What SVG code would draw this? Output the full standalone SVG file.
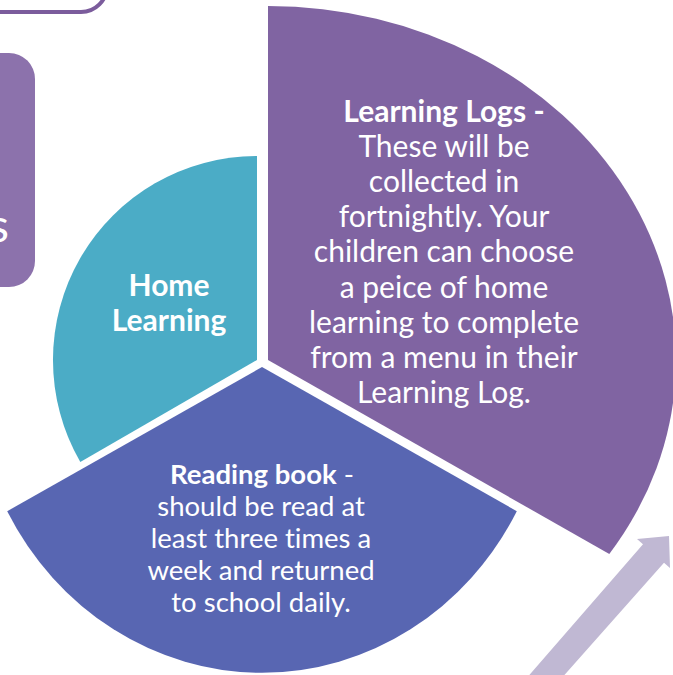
<svg xmlns="http://www.w3.org/2000/svg" width="673" height="675" viewBox="0 0 673 675">
<style>
.t{font-family:Lato,"Liberation Sans","DejaVu Sans",sans-serif;fill:#ffffff;text-anchor:middle;font-variant-ligatures:none}
.pu{font-size:30px}
.bl{font-size:27.5px}
.b{font-weight:bold}
</style>
<rect x="0" y="0" width="673" height="675" fill="#ffffff"/>
<g id="top-box">
<rect x="-60" y="-60" width="167" height="72" rx="26" ry="26" fill="#ffffff" stroke="#7B5C9C" stroke-width="4"/>
</g>
<g id="left-box">
<rect x="-60" y="53" width="95" height="234" rx="26" ry="26" fill="#8C72AC"/>
<text class="t" x="9" y="242" style="font-size:46px;text-anchor:end">s</text>
</g>
<g id="purple-sector">
<path d="M268,360 L268,6 A408,354 0 0 1 609.3,554 Z" fill="#8064A2"/>
<text class="t pu"><tspan class="b" x="444" y="121.5">Learning Logs -</tspan><tspan x="444" y="156.7">These will be</tspan><tspan x="444" y="191.9">collected in</tspan><tspan x="444" y="227.1">fortnightly. Your</tspan><tspan x="444" y="262.3">children can choose</tspan><tspan x="444" y="297.5">a peice of home</tspan><tspan x="444" y="332.7">learning to complete</tspan><tspan x="444" y="367.9">from a menu in their</tspan><tspan x="444" y="403.1">Learning Log.</tspan></text>
</g>
<g id="teal-sector">
<path d="M257,360 L257,156 A204,204 0 0 0 80.3,462 Z" fill="#4BACC6"/>
<text class="t pu b"><tspan x="169" y="296">Home</tspan><tspan x="169" y="331">Learning</tspan></text>
</g>
<g id="blue-sector">
<path d="M262,367 L516.8,511.2 A289,306 0 0 1 7.2,511.2 Z" fill="#5866B2"/>
<text class="t bl"><tspan x="262" y="484"><tspan class="b">Reading book</tspan> -</tspan><tspan x="261" y="516">should be read at</tspan><tspan x="261" y="548">least three times a</tspan><tspan x="261" y="580">week and returned</tspan><tspan x="261" y="612">to school daily.</tspan></text>
</g>
<g id="arrow">
<polygon points="525,680 643,544.2 637,539 669,536 670,568 664,562.8 560,680" fill="#C0B8D3"/>
</g>
</svg>
